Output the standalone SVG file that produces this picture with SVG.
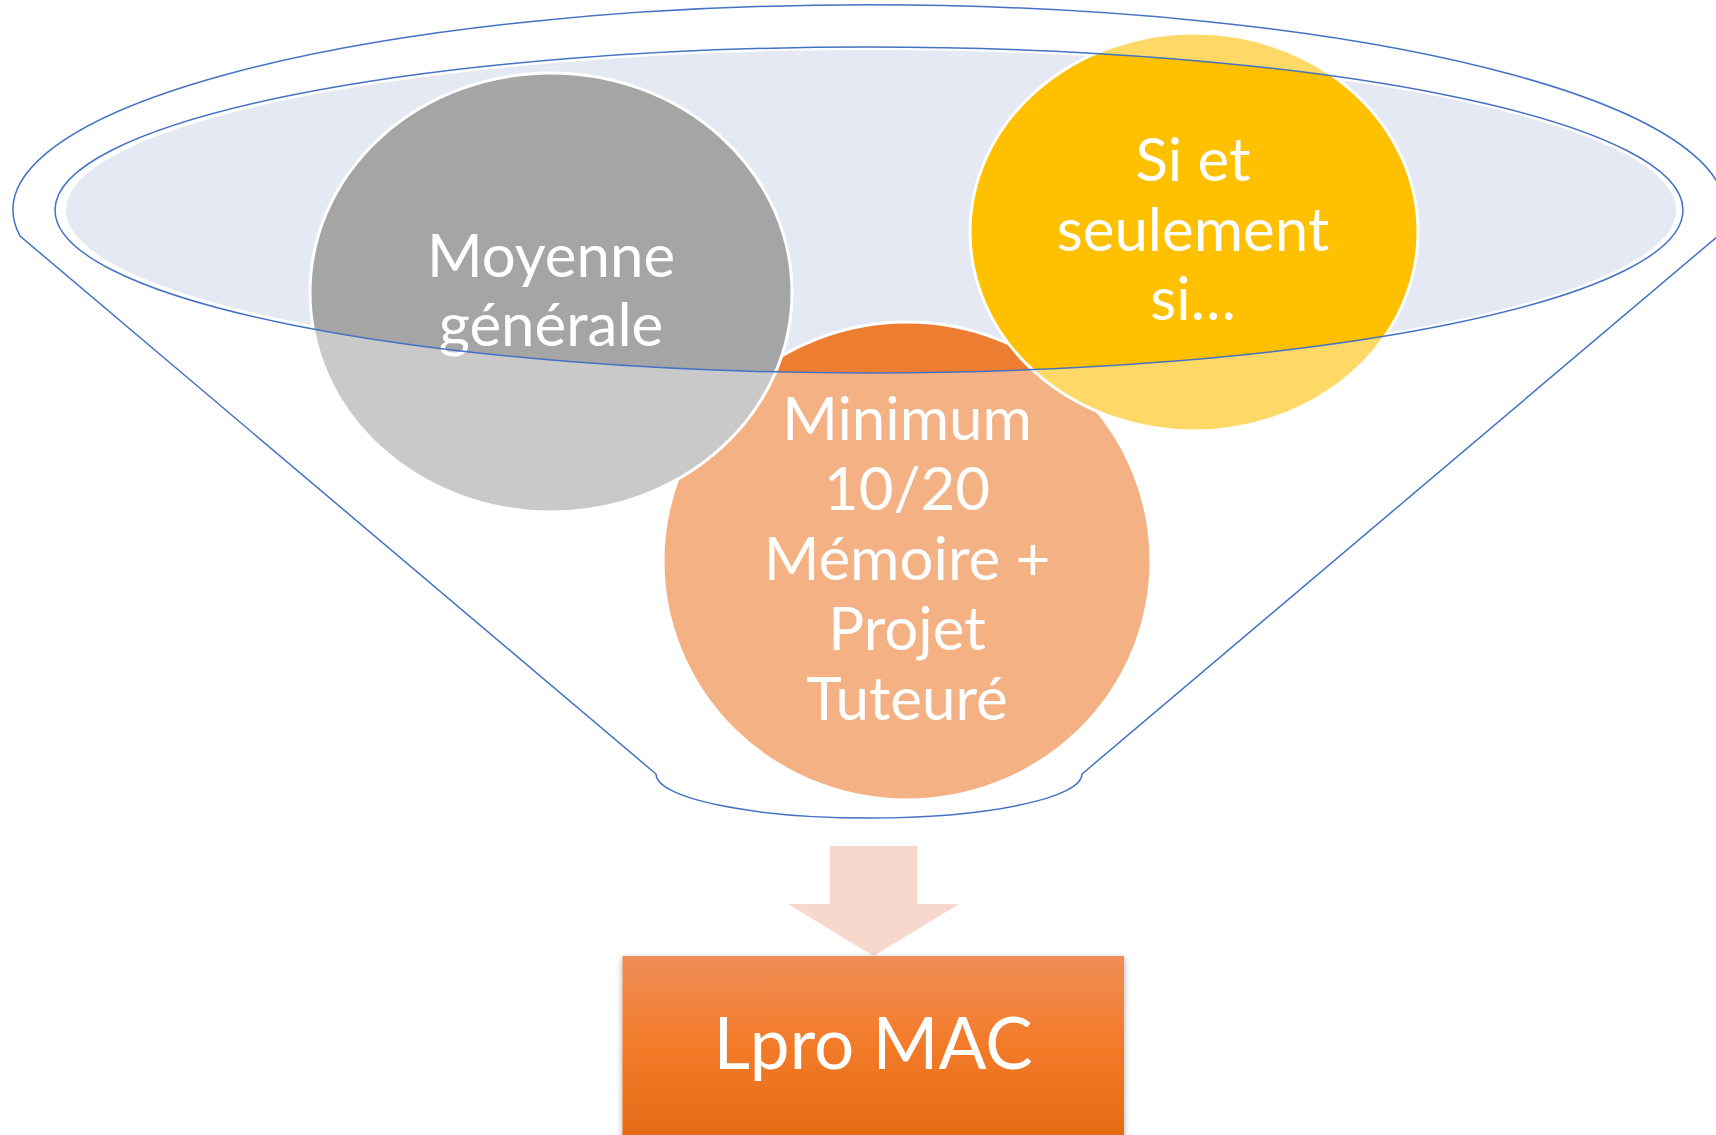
<svg xmlns="http://www.w3.org/2000/svg" width="1716" height="1135" viewBox="0 0 1716 1135">
<defs>
<style>
.lbl{font-family:Lato,"Liberation Sans",sans-serif;fill:#ffffff;text-anchor:middle}
.c{font-size:60px}
.big{font-size:71px}
.circ{stroke:#ffffff;stroke-width:3}
.outline{fill:none;stroke:#4472C4;stroke-width:1.5}
</style>
<linearGradient id="boxg" x1="0" y1="0" x2="0" y2="1">
<stop offset="0" stop-color="#F08D58"/>
<stop offset="0.45" stop-color="#F37B29"/>
<stop offset="1" stop-color="#E26913"/>
</linearGradient>
<filter id="sh" x="-10%" y="-10%" width="120%" height="130%">
<feDropShadow dx="0" dy="2" stdDeviation="3" flood-color="#000000" flood-opacity="0.35"/>
</filter>
</defs>
<g id="funnel-inner">
<ellipse cx="871" cy="210" rx="805" ry="160" fill="#E4E9F3"/>
</g>
<g id="node-minimum">
<ellipse class="circ" cx="907" cy="561" rx="244" ry="239" fill="#ED7D31"/>
<text class="lbl c" x="907" y="440">Minimum</text>
<text class="lbl c" x="907" y="510">10/20</text>
<text class="lbl c" x="907" y="580">Mémoire +</text>
<text class="lbl c" x="907" y="650">Projet</text>
<text class="lbl c" x="907" y="720">Tuteuré</text>
</g>
<g id="node-moyenne">
<ellipse class="circ" cx="551" cy="292.5" rx="241" ry="219.5" fill="#A5A5A5"/>
<text class="lbl c" x="551" y="277">Moyenne</text>
<text class="lbl c" x="551" y="346">générale</text>
</g>
<g id="node-si">
<ellipse class="circ" cx="1194" cy="232" rx="224" ry="199" fill="#FFC000"/>
<text class="lbl c" x="1193" y="181">Si et</text>
<text class="lbl c" x="1193" y="251">seulement</text>
<text class="lbl c" x="1193" y="320">si…</text>
</g>
<g id="funnel">
<path fill="#ffffff" fill-opacity="0.4" fill-rule="evenodd" d="M20,236 A856,205 0 1 1 1718,236 L1082,774 A213,44 0 0 1 656,774 Z M55,210 A814,163 0 1 0 1683,210 A814,163 0 1 0 55,210 Z"/>
<path class="outline" d="M20,236 A856,205 0 1 1 1718,236 L1082,774 A213,44 0 0 1 656,774 Z"/>
<ellipse class="outline" cx="869" cy="210" rx="814" ry="163"/>
</g>
<g id="connectors">
<polygon points="830,846 917.5,846 917.5,904 959,904 873.5,956 788,904 830,904" fill="#F8D8CC"/>
</g>
<g id="node-lpro">
<rect x="622.5" y="956" width="501.5" height="195" fill="url(#boxg)" filter="url(#sh)"/>
<text class="lbl big" x="873" y="1069">Lpro MAC</text>
</g>
</svg>
